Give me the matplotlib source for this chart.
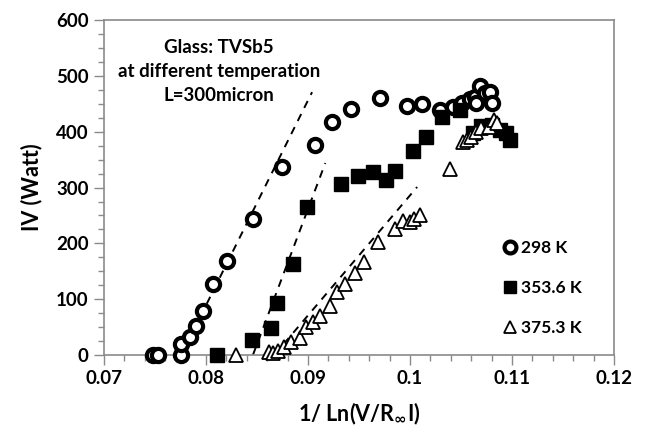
import matplotlib
matplotlib.use("Agg")
import matplotlib.pyplot as plt
from matplotlib.ticker import MultipleLocator

plt.rcParams['font.family'] = ['Lato', 'DejaVu Sans']
plt.rcParams['font.weight'] = 'bold'

# 298 K (open circles)
x298 = [0.0748, 0.0753, 0.0775, 0.0775, 0.0784, 0.0790, 0.0797, 0.0807, 0.0821,
        0.0846, 0.0875, 0.0907, 0.0924, 0.0942, 0.0971, 0.0997, 0.1012, 0.1029,
        0.1042, 0.1051, 0.1059, 0.1064, 0.1065, 0.1069, 0.1074, 0.1078, 0.1080]
y298 = [0, 0, 0, 20, 32, 52, 79, 128, 168, 243, 337, 376, 418, 440, 460, 447, 449,
        439, 445, 452, 458, 463, 451, 482, 469, 472, 452]

# 353.6 K (filled squares)
x353 = [0.0811, 0.0845, 0.0864, 0.0870, 0.0885, 0.0899, 0.0932, 0.0949, 0.0964,
        0.0976, 0.0985, 0.1003, 0.1016, 0.1031, 0.1049, 0.1062, 0.1070, 0.1080,
        0.1088, 0.1094, 0.1098]
y353 = [0, 27, 48, 94, 163, 265, 306, 321, 328, 313, 330, 366, 391, 426, 439, 398,
        410, 412, 404, 398, 386]

# 375.3 K (open triangles)
x375 = [0.0829, 0.0862, 0.0866, 0.0871, 0.0876, 0.0883, 0.0892, 0.0898, 0.0905,
        0.0912, 0.0922, 0.0928, 0.0936, 0.0946, 0.0955, 0.0969, 0.0985, 0.0993,
        0.1000, 0.1004, 0.1010, 0.1039, 0.1052, 0.1056, 0.1060, 0.1065, 0.1070,
        0.1077, 0.1082, 0.1085]
y375 = [0, 6, 3, 8, 15, 24, 30, 51, 60, 70, 88, 113, 128, 147, 167, 203, 225, 240,
        239, 244, 251, 334, 382, 385, 391, 400, 406, 409, 421, 415]

# dashed linear fits
fit298_x = [0.0788, 0.0904]
fit298_y = [45, 471]
fit353_x = [0.0846, 0.0917]
fit353_y = [0, 344]
fit375_x = [0.0867, 0.1007]
fit375_y = [0, 301]

labels = ['298 K', '353.6 K', '375.3 K']
note = "Glass: TVSb5\nat different temperation\nL=300micron"

fig = plt.figure(figsize=(6.48, 4.38), dpi=100)
ax = fig.add_axes([0.1605, 0.1895, 0.787, 0.7645])

dash = dict(color='black', linewidth=1.4, dashes=(4, 3.5))
ax.plot(fit298_x, fit298_y, **dash)
ax.plot(fit353_x, fit353_y, **dash)
ax.plot(fit375_x, fit375_y, **dash)

h1, = ax.plot(x298, y298, linestyle='none', marker='o', markersize=9.5,
              markerfacecolor='white', markeredgecolor='black', markeredgewidth=3.0,
              clip_on=False, zorder=3)
h2, = ax.plot(x353, y353, linestyle='none', marker='s', markersize=9.5,
              markerfacecolor='black', markeredgecolor='black', markeredgewidth=1,
              clip_on=False, zorder=3)
h3, = ax.plot(x375, y375, linestyle='none', marker='^', markersize=9.5,
              markerfacecolor='white', markeredgecolor='black', markeredgewidth=1.3,
              clip_on=False, zorder=3)

ax.set_xlim(0.07, 0.12)
ax.set_ylim(0, 600)
ax.xaxis.set_major_locator(MultipleLocator(0.01))
ax.xaxis.set_minor_locator(MultipleLocator(0.002))
ax.yaxis.set_major_locator(MultipleLocator(100))
ax.yaxis.set_minor_locator(MultipleLocator(25))
ax.xaxis.set_major_formatter(matplotlib.ticker.FuncFormatter(
    lambda v, p: ('%.2f' % v).rstrip('0') if abs(v - 0.1) < 1e-9 else '%.2f' % v))

spine_c = '#8a8a8a'
for s in ax.spines.values():
    s.set_color(spine_c)
    s.set_linewidth(1.2)
ax.tick_params(which='both', direction='out', color=spine_c, width=1.0,
               labelsize=13.5, top=False, right=False)
ax.tick_params(which='major', length=7, pad=4)
ax.tick_params(which='minor', length=4)
for lab in ax.get_xticklabels() + ax.get_yticklabels():
    lab.set_fontweight('bold')

ax.set_ylabel('IV (Watt)', fontsize=15.5, fontweight='bold', labelpad=10)
ax.set_xlabel(r'1/ Ln(V/R$_{\infty}$I)', fontsize=15.5, fontweight='bold', labelpad=10)

ax.text(0.226, 0.945, note, transform=ax.transAxes, ha='center', va='top',
        fontsize=13.5, fontweight='bold', linespacing=1.5)

leg = ax.legend([h1, h2, h3], labels, loc='upper left',
                bbox_to_anchor=(0.772, 0.365), frameon=False, fontsize=12.5,
                handlelength=0.6, handletextpad=0.35, labelspacing=1.4,
                borderaxespad=0, markerscale=0.9)
for t in leg.get_texts():
    t.set_fontweight('bold')

fig.savefig('out.png', dpi=100)
